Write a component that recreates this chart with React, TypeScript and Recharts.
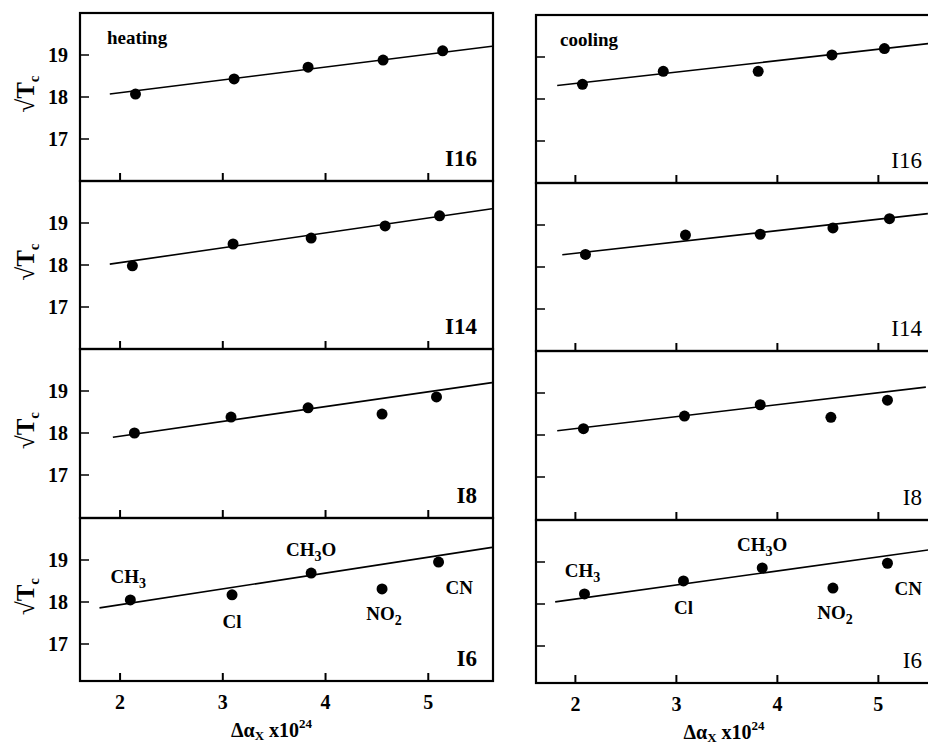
import { ScatterChart, Scatter, XAxis, YAxis, ReferenceLine, LabelList, Customized } from 'recharts'

const substituents = ['CH3', 'Cl', 'CH3O', 'NO2', 'CN']
const panelNames = ['I16', 'I14', 'I8', 'I6']
const xTicks = [2, 3, 4, 5]
const yTicks = [17, 18, 19]

// heating (left column), rows top to bottom: I16, I14, I8, I6
const heatingX = [
  [2.15, 3.11, 3.83, 4.56, 5.14],
  [2.12, 3.1, 3.86, 4.58, 5.11],
  [2.14, 3.08, 3.83, 4.55, 5.08],
  [2.1, 3.09, 3.86, 4.55, 5.1],
]
const heatingY = [
  [18.07, 18.43, 18.71, 18.88, 19.1],
  [17.98, 18.5, 18.64, 18.93, 19.17],
  [18.0, 18.38, 18.6, 18.45, 18.86],
  [18.05, 18.17, 18.69, 18.31, 18.95],
]
// fitted lines as [x1, y1, x2, y2]
const heatingFit = [
  [1.9, 18.07, 5.62, 19.21],
  [1.9, 18.02, 5.62, 19.34],
  [1.93, 17.9, 5.62, 19.2],
  [1.8, 17.86, 5.62, 19.3],
]

// cooling (right column)
const coolingX = [
  [2.07, 2.87, 3.81, 4.54, 5.06],
  [2.1, 3.09, 3.83, 4.55, 5.11],
  [2.08, 3.08, 3.83, 4.53, 5.09],
  [2.09, 3.07, 3.85, 4.55, 5.09],
]
const coolingY = [
  [18.35, 18.66, 18.66, 19.05, 19.2],
  [18.3, 18.76, 18.78, 18.93, 19.15],
  [18.15, 18.45, 18.72, 18.42, 18.83],
  [18.24, 18.55, 18.86, 18.38, 18.97],
]
const coolingFit = [
  [1.82, 18.32, 5.5, 19.32],
  [1.87, 18.29, 5.49, 19.27],
  [1.82, 18.1, 5.47, 19.14],
  [1.8, 18.05, 5.5, 19.29],
]

const xDomain = [1.61, 5.63]
const rowTops = [13, 181, 349, 518]
const rowHeights = [168, 168, 169, 163]
const pxPerUnit = 42

const labelPlacement: Record<string, { dx: number; dy: number; anchor: string }> = {
  CH3: { dx: -2, dy: -17, anchor: 'middle' },
  Cl: { dx: 0, dy: 33, anchor: 'middle' },
  CH3O: { dx: 0, dy: -17, anchor: 'middle' },
  NO2: { dx: 2, dy: 31, anchor: 'middle' },
  CN: { dx: 7, dy: 32, anchor: 'start' },
}

const black = '#000'

function chem(name: string) {
  const parts = name.split(/(\d+)/).filter(p => p !== '')
  let sub = false
  return parts.map((p, i) => {
    const isNum = /^\d+$/.test(p)
    const dy = isNum ? 5 : sub ? -5 : 0
    sub = isNum
    return (
      <tspan key={i} dy={dy} fontSize={isNum ? 14 : undefined}>
        {p}
      </tspan>
    )
  })
}

const Dot = (props: any) => <circle cx={props.cx} cy={props.cy} r={5.5} fill={black} />

const PointLabel = (props: any) => {
  const { x, y, width, height, value } = props
  const p = labelPlacement[value]
  const cx = x + width / 2
  const cy = y + height / 2
  return (
    <text x={cx + p.dx} y={cy + p.dy} textAnchor={p.anchor} fontSize={19} fontWeight="bold" fill={black}>
      {chem(value)}
    </text>
  )
}

const YLabel = (props: any) => {
  const vb = props.viewBox
  const cx = 34
  const cy = vb.y + vb.height / 2 - 3
  return (
    <text x={cx} y={cy} transform={`rotate(-90 ${cx} ${cy})`} textAnchor="middle" fontSize={25} fontWeight="bold" fill={black}>
      √T
      <tspan fontSize={15} dy={5}>c</tspan>
    </text>
  )
}

const XLabel = (props: any) => {
  const vb = props.viewBox
  return (
    <text x={vb.x + vb.width / 2 - 15} y={vb.y + 56} textAnchor="middle" fontSize={20} fontWeight="bold" fill={black}>
      Δα
      <tspan fontSize={13} dy={3}>X</tspan>
      <tspan dy={-3}> x10</tspan>
      <tspan fontSize={13} dy={-9}>24</tspan>
    </text>
  )
}

function Panel({ side, row }: { side: 'heating' | 'cooling'; row: number }) {
  const isLeft = side === 'heating'
  const isBottom = row === 3
  const xs = isLeft ? heatingX[row] : coolingX[row]
  const ys = isLeft ? heatingY[row] : coolingY[row]
  const fit = isLeft ? heatingFit[row] : coolingFit[row]
  const data = xs.map((x, i) => ({ x, y: ys[i], name: substituents[i] }))

  const plotH = rowHeights[row]
  const axisW = isLeft ? 80 : 10
  const plotW = isLeft ? 413 : 406
  const xAxisH = isBottom ? 60 : 4
  const width = axisW + plotW + 4
  const height = 4 + plotH + xAxisH + (isBottom ? 4 : 0)
  const yDomain = [20 - plotH / pxPerUnit, 20]
  const plotRight = axisW + plotW
  const plotBottom = 4 + plotH
  const tagX = isLeft ? plotRight - 16 : plotRight - 20
  const tickLen = 8 / pxPerUnit

  // tick numbers only on the bottom row; the inward tick marks are reference segments below
  const xTick = (props: any) =>
    isBottom ? (
      <text x={props.x} y={Number(props.y) + 14} dy="0.71em" textAnchor="middle" fontSize={20} fontWeight="bold" fill={black}>
        {props.payload.value}
      </text>
    ) : (
      <g />
    )
  const yTick = (props: any) => (
    <g>
      <line x1={props.x} x2={props.x + 9} y1={props.y} y2={props.y} stroke={black} strokeWidth={1.5} />
      {isLeft && (
        <text x={props.x - 12} y={props.y} dy="0.355em" textAnchor="end" fontSize={20} fontWeight="bold" fill={black}>
          {props.payload.value}
        </text>
      )}
    </g>
  )

  return (
    <div style={{ position: 'absolute', left: isLeft ? 0 : 526, top: rowTops[row] - 4 + (isLeft ? 0 : 2) }}>
      <ScatterChart width={width} height={height} margin={{ top: 4, right: 4, bottom: isBottom ? 4 : 0, left: 0 }}>
        <Customized
          component={() => (
            <rect x={axisW} y={4} width={plotW} height={plotH} fill="none" stroke={black} strokeWidth={2.2} />
          )}
        />
        <XAxis
          type="number"
          dataKey="x"
          domain={xDomain}
          ticks={xTicks}
          allowDataOverflow
          height={xAxisH}
          tickSize={0}
          tickMargin={0}
          tick={xTick}
          tickLine={false}
          axisLine={false}
          label={isBottom ? { content: XLabel } : undefined}
        />
        <YAxis
          type="number"
          dataKey="y"
          domain={yDomain}
          ticks={yTicks}
          allowDataOverflow
          width={axisW}
          tickSize={0}
          tickMargin={0}
          tick={yTick}
          tickLine={false}
          axisLine={false}
          label={isLeft ? { content: YLabel } : undefined}
        />
        {xTicks.map(t => (
          <ReferenceLine
            key={`t${t}`}
            segment={[
              { x: t, y: yDomain[0] },
              { x: t, y: yDomain[0] + tickLen },
            ]}
            stroke={black}
            strokeWidth={2}
          />
        ))}
        <ReferenceLine
          segment={[
            { x: fit[0], y: fit[1] },
            { x: fit[2], y: fit[3] },
          ]}
          stroke={black}
          strokeWidth={1.6}
        />
        <Scatter data={data} isAnimationActive={false} shape={Dot}>
          {isBottom && <LabelList dataKey="name" content={PointLabel} />}
        </Scatter>
        <Customized
          component={() => (
            <g fill={black}>
              {row === 0 && (
                <text x={axisW + (isLeft ? 27 : 24)} y={4 + 31} fontSize={19} fontWeight="bold">
                  {side}
                </text>
              )}
              <text x={tagX} y={plotBottom - 15} textAnchor="end" fontSize={23} fontWeight={isLeft ? 'bold' : 'normal'}>
                {panelNames[row]}
              </text>
            </g>
          )}
        />
      </ScatterChart>
    </div>
  )
}

export default function App() {
  const rows = [0, 1, 2, 3]
  return (
    <div
      style={{
        position: 'absolute',
        left: 0,
        top: 0,
        width: 928,
        height: 745,
        overflow: 'hidden',
        background: '#fff',
        fontFamily: '"Liberation Serif", "DejaVu Serif", serif',
      }}
    >
      {rows.map(r => (
        <Panel key={`h${r}`} side="heating" row={r} />
      ))}
      {rows.map(r => (
        <Panel key={`c${r}`} side="cooling" row={r} />
      ))}
    </div>
  )
}
